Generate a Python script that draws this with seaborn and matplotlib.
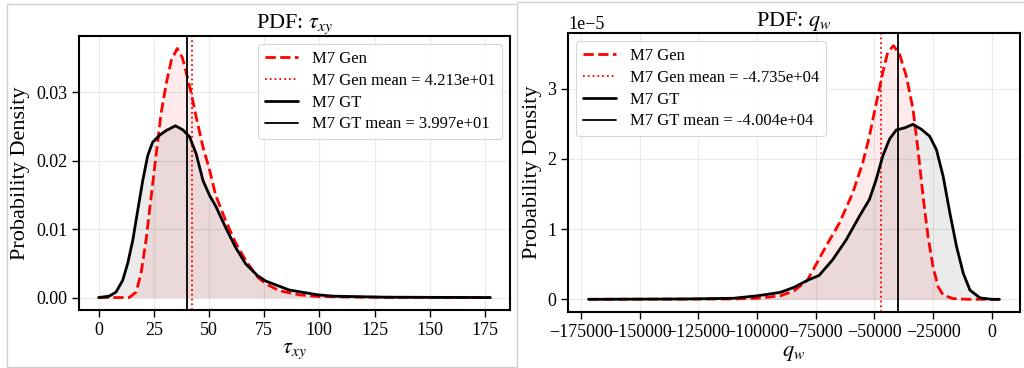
import numpy as np
import pandas as pd
import matplotlib
matplotlib.use("Agg")
import matplotlib.pyplot as plt
from matplotlib.lines import Line2D
from matplotlib.patches import Rectangle
import seaborn as sns

# ---------------- data ----------------
# Panel 1: tau_xy
tau_gen_x = [0, 10.9, 13.9, 17.0, 19.2, 21.5, 23.8, 26.1, 28.3, 30.6, 32.9, 35.6, 37.9,
             39.7, 42.0, 44.2, 47.3, 50.3, 53.0, 57.6, 62.1, 66.7, 72.0, 75.8, 81.8,
             90.9, 99.2, 120.0, 177.5]
tau_gen_y = [0, 0, 0, 0.0008, 0.0035, 0.0084, 0.0147, 0.0210, 0.0269, 0.0312, 0.0346,
             0.0364, 0.0351, 0.0329, 0.0298, 0.0264, 0.0220, 0.0186, 0.0150, 0.0112,
             0.0080, 0.0054, 0.0030, 0.0020, 0.0010, 0.0004, 0.00015, 0.00005, 0]
tau_gt_x = [0, 4.8, 7.9, 10.9, 13.2, 15.5, 17.7, 20.0, 22.3, 24.5, 27.6, 30.6, 34.8,
            38.2, 41.2, 44.2, 47.3, 50.3, 53.0, 57.6, 62.1, 66.7, 72.0, 75.8, 86.4,
            99.2, 106.4, 130.0, 177.5]
tau_gt_y = [0, 0.0002, 0.0008, 0.0025, 0.0050, 0.0084, 0.0127, 0.0171, 0.0208, 0.0227,
            0.0237, 0.0244, 0.0251, 0.0245, 0.0235, 0.0210, 0.0171, 0.0149, 0.0134,
            0.0102, 0.0073, 0.0049, 0.0032, 0.0024, 0.0011, 0.0004, 0.0002, 0.00005, 0]
tau_gen_mean = 42.13
tau_gt_mean = 39.97

# Panel 2: q_w (density in units of 1e-5)
qw_gen_x = [-171770, -110000, -100000, -90000, -84290, -78570, -76430, -70710, -65000,
            -59290, -55000, -52140, -49290, -46430, -44290, -41860, -39290, -36430,
            -33570, -31430, -29290, -27140, -25000, -22860, -20710, -16430, -10000, 3270]
qw_gen_y = [0, 0.005, 0.015, 0.05, 0.12, 0.27, 0.40, 0.75, 1.08, 1.51, 1.94, 2.32, 2.78,
            3.23, 3.52, 3.61, 3.49, 3.18, 2.71, 2.13, 1.47, 0.89, 0.46, 0.18, 0.06, 0.01,
            0, 0]
qw_gt_x = [-171770, -130000, -110000, -100000, -95710, -90000, -84290, -78570, -73570,
           -67860, -62140, -56430, -52140, -49290, -46430, -43570, -40710, -37140,
           -33570, -30000, -26430, -23570, -20710, -17860, -15000, -12140, -9290, -5000,
           0, 3270]
qw_gt_y = [0, 0.005, 0.015, 0.05, 0.07, 0.10, 0.17, 0.27, 0.34, 0.56, 0.84, 1.18, 1.42,
           1.70, 2.04, 2.28, 2.41, 2.44, 2.49, 2.42, 2.32, 2.13, 1.75, 1.23, 0.75, 0.37,
           0.13, 0.02, 0, 0]
qw_gen_mean = -4.735e4
qw_gt_mean = -4.004e4

titles = [r"PDF: $\tau_{xy}$", r"PDF: $q_w$"]
xlabels = [r"$\tau_{xy}$", r"$q_w$"]

# ---------------- style ----------------
sns.set_theme(style="whitegrid")
plt.rcParams["font.family"] = ["Liberation Serif", "DejaVu Serif"]
plt.rcParams["mathtext.fontset"] = "stix"
plt.rcParams.update({
    "axes.edgecolor": "black",
    "axes.linewidth": 1.5,
    "grid.color": "#dddddd",
    "grid.linewidth": 0.8,
    "xtick.bottom": True,
    "ytick.left": True,
    "xtick.major.size": 5,
    "ytick.major.size": 5,
    "xtick.major.width": 1.0,
    "ytick.major.width": 1.0,
    "xtick.color": "black",
    "ytick.color": "black",
    "xtick.labelsize": 13,
    "ytick.labelsize": 13,
    "text.color": "black",
    "axes.labelcolor": "black",
})

fig = plt.figure(figsize=(10.24, 3.68), dpi=100)
ax1 = fig.add_axes([79 / 1024, 1 - 310 / 368, (510 - 79) / 1024, (310 - 36) / 368])
ax2 = fig.add_axes([568 / 1024, 1 - 312 / 368, (1020 - 568) / 1024, (312 - 33) / 368])

panels = [
    (ax1, tau_gen_x, tau_gen_y, tau_gt_x, tau_gt_y, tau_gen_mean, tau_gt_mean, 1.0, "upper right"),
    (ax2, qw_gen_x, qw_gen_y, qw_gt_x, qw_gt_y, qw_gen_mean, qw_gt_mean, 1e-5, "upper left"),
]

for i, (ax, gx, gy, tx, ty, gm, tm, scale, loc) in enumerate(panels):
    gen = pd.DataFrame({"x": gx, "y": np.array(gy) * scale})
    gt = pd.DataFrame({"x": tx, "y": np.array(ty) * scale})

    sns.lineplot(data=gen, x="x", y="y", ax=ax, color="red", linestyle="--", lw=2,
                 label="M7 Gen", sort=False)
    ax.fill_between(gen["x"], gen["y"], color="red", alpha=0.08, lw=0)
    ax.axvline(gm, color="red", linestyle=":", lw=1.3,
               label=f"M7 Gen mean = {gm:.3e}")
    sns.lineplot(data=gt, x="x", y="y", ax=ax, color="black", linestyle="-", lw=2,
                 label="M7 GT", sort=False)
    ax.fill_between(gt["x"], gt["y"], color="black", alpha=0.08, lw=0)
    ax.axvline(tm, color="black", linestyle="-", lw=1.3,
               label=f"M7 GT mean = {tm:.3e}")

    ax.set_title(titles[i], fontsize=16, pad=4)
    ax.set_xlabel(xlabels[i], fontsize=16, labelpad=2)
    ax.set_ylabel("Probability Density", fontsize=16, labelpad=4)
    ax.grid(True, alpha=0.6)
    for s in ax.spines.values():
        s.set_color("black")
        s.set_linewidth(1.5)
    leg = ax.legend(loc=loc, fontsize=12, frameon=True, framealpha=0.8,
                    edgecolor="#cccccc", fancybox=True, labelspacing=0.35,
                    borderpad=0.4)
    leg.get_frame().set_linewidth(0.8)

ax1.set_xticks([0, 25, 50, 75, 100, 125, 150, 175])
ax1.set_yticks([0, 0.01, 0.02, 0.03])
ax1.yaxis.set_major_formatter(matplotlib.ticker.FormatStrFormatter("%.2f"))
ax2.set_xticks(np.arange(-175000, 1, 25000))
ax2.set_yticks([0, 1e-5, 2e-5, 3e-5])
ax2.yaxis.get_offset_text().set_fontsize(13)

# light frame artefacts around each panel image
fig.add_artist(Rectangle((7 / 1024, 1 / 368), (517 - 7) / 1024, (364 - 1) / 368,
                         transform=fig.transFigure, fill=False, ec="#d0d0d0", lw=1))
fig.add_artist(Line2D([517 / 1024, 1], [1 - 2 / 368, 1 - 2 / 368],
                      transform=fig.transFigure, color="#d0d0d0", lw=1))

fig.savefig("out.png", dpi=100)
